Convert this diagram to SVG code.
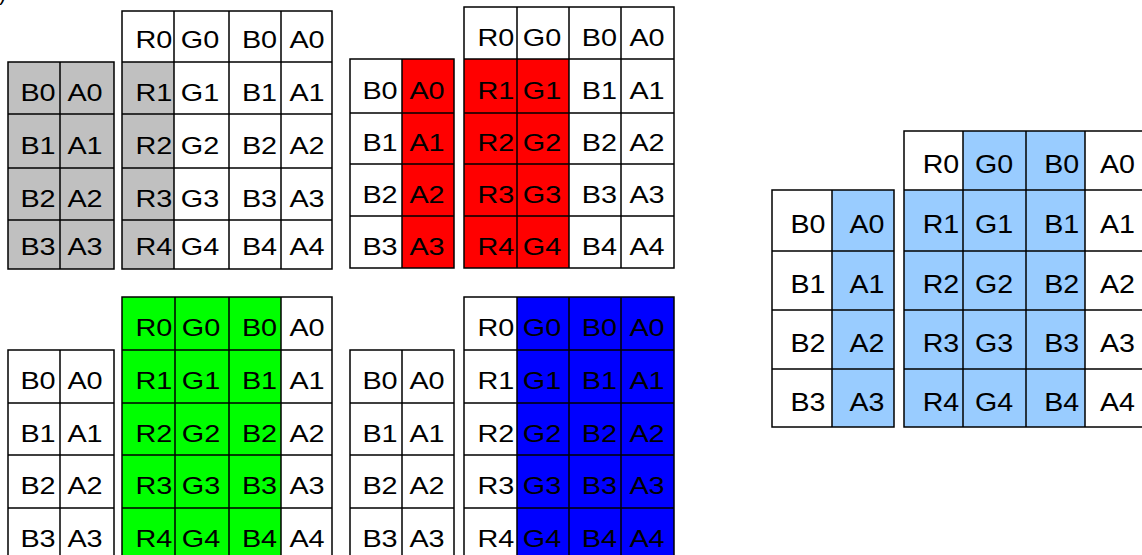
<svg xmlns="http://www.w3.org/2000/svg" width="1142" height="555" viewBox="0 0 1142 555">
<style>
.bg{stroke:none}
.w{fill:#ffffff}
.gray{fill:#c0c0c0}
.red{fill:#ff0000}
.green{fill:#00ff00}
.blue{fill:#0000ff}
.lb{fill:#99ccff}
.ln{fill:none;stroke:#000;stroke-width:1.5}
.t text{font-family:"Liberation Sans",Arial,sans-serif;font-size:24px;fill:#000;text-anchor:middle}
.t2 text{font-family:"Liberation Sans",Arial,sans-serif;font-size:26px;fill:#000;text-anchor:middle}
.mark{font-family:"Liberation Sans",Arial,sans-serif;font-size:22px;fill:#000}
</style>
<rect width="1142" height="555" fill="#ffffff"/>
<text class="mark" x="-1" y="0">)</text>

<g id="panel-gray">
  <rect class="bg gray" x="8" y="62" width="106" height="207"/>
  <rect class="bg w" x="122" y="11" width="210" height="258"/>
  <rect class="bg gray" x="122" y="62" width="52" height="207"/>
  <path class="ln" d="M60 62V269M8 114H114M8 168H114M8 220H114"/>
  <rect class="ln" x="8" y="62" width="106" height="207"/>
  <path class="ln" d="M174 11V269M229 11V269M281 11V269M122 62H332M122 114H332M122 168H332M122 220H332"/>
  <rect class="ln" x="122" y="11" width="210" height="258"/>
  <g class="t" transform="scale(1.2 1)">
    <text x="31.67" y="101">B0</text><text x="70.83" y="101">A0</text>
    <text x="31.67" y="154">B1</text><text x="70.83" y="154">A1</text>
    <text x="31.67" y="207">B2</text><text x="70.83" y="207">A2</text>
    <text x="31.67" y="255">B3</text><text x="70.83" y="255">A3</text>
    <text x="128.33" y="48">R0</text><text x="166.67" y="48">G0</text><text x="216.25" y="48">B0</text><text x="255.83" y="48">A0</text>
    <text x="128.33" y="101">R1</text><text x="166.67" y="101">G1</text><text x="216.25" y="101">B1</text><text x="255.83" y="101">A1</text>
    <text x="128.33" y="154">R2</text><text x="166.67" y="154">G2</text><text x="216.25" y="154">B2</text><text x="255.83" y="154">A2</text>
    <text x="128.33" y="207">R3</text><text x="166.67" y="207">G3</text><text x="216.25" y="207">B3</text><text x="255.83" y="207">A3</text>
    <text x="128.33" y="255">R4</text><text x="166.67" y="255">G4</text><text x="216.25" y="255">B4</text><text x="255.83" y="255">A4</text>
  </g>
</g>

<g id="panel-red">
  <rect class="bg w" x="350" y="59" width="104" height="209"/>
  <rect class="bg red" x="402" y="59" width="52" height="209"/>
  <rect class="bg w" x="464" y="7" width="210" height="261"/>
  <rect class="bg red" x="464" y="59" width="105" height="209"/>
  <path class="ln" d="M402 59V268M350 113H454M350 164H454M350 216H454"/>
  <rect class="ln" x="350" y="59" width="104" height="209"/>
  <path class="ln" d="M517 7V268M569 7V268M621 7V268M464 59H674M464 113H674M464 164H674M464 216H674"/>
  <rect class="ln" x="464" y="7" width="210" height="261"/>
  <g class="t" transform="scale(1.2 1)">
    <text x="316.67" y="99">B0</text><text x="355.83" y="99">A0</text>
    <text x="316.67" y="151.5">B1</text><text x="355.83" y="151.5">A1</text>
    <text x="316.67" y="203">B2</text><text x="355.83" y="203">A2</text>
    <text x="316.67" y="255">B3</text><text x="355.83" y="255">A3</text>
    <text x="413.33" y="46">R0</text><text x="451.67" y="46">G0</text><text x="499.58" y="46">B0</text><text x="539.17" y="46">A0</text>
    <text x="413.33" y="99">R1</text><text x="451.67" y="99">G1</text><text x="499.58" y="99">B1</text><text x="539.17" y="99">A1</text>
    <text x="413.33" y="151.5">R2</text><text x="451.67" y="151.5">G2</text><text x="499.58" y="151.5">B2</text><text x="539.17" y="151.5">A2</text>
    <text x="413.33" y="203">R3</text><text x="451.67" y="203">G3</text><text x="499.58" y="203">B3</text><text x="539.17" y="203">A3</text>
    <text x="413.33" y="255">R4</text><text x="451.67" y="255">G4</text><text x="499.58" y="255">B4</text><text x="539.17" y="255">A4</text>
  </g>
</g>

<g id="panel-green">
  <rect class="bg w" x="8" y="350" width="106" height="210"/>
  <rect class="bg w" x="122" y="297" width="210" height="263"/>
  <rect class="bg green" x="122" y="297" width="159" height="263"/>
  <path class="ln" d="M60 350V560M8 403H114M8 455H114M8 508H114"/>
  <rect class="ln" x="8" y="350" width="106" height="210"/>
  <path class="ln" d="M175 297V560M229 297V560M281 297V560M122 350H332M122 403H332M122 455H332M122 508H332"/>
  <rect class="ln" x="122" y="297" width="210" height="263"/>
  <g class="t" transform="scale(1.2 1)">
    <text x="31.67" y="389.5">B0</text><text x="70.83" y="389.5">A0</text>
    <text x="31.67" y="442">B1</text><text x="70.83" y="442">A1</text>
    <text x="31.67" y="494.5">B2</text><text x="70.83" y="494.5">A2</text>
    <text x="31.67" y="547">B3</text><text x="70.83" y="547">A3</text>
    <text x="128.33" y="336.5">R0</text><text x="167.5" y="336.5">G0</text><text x="216.25" y="336.5">B0</text><text x="255.83" y="336.5">A0</text>
    <text x="128.33" y="389.5">R1</text><text x="167.5" y="389.5">G1</text><text x="216.25" y="389.5">B1</text><text x="255.83" y="389.5">A1</text>
    <text x="128.33" y="442">R2</text><text x="167.5" y="442">G2</text><text x="216.25" y="442">B2</text><text x="255.83" y="442">A2</text>
    <text x="128.33" y="494.5">R3</text><text x="167.5" y="494.5">G3</text><text x="216.25" y="494.5">B3</text><text x="255.83" y="494.5">A3</text>
    <text x="128.33" y="547">R4</text><text x="167.5" y="547">G4</text><text x="216.25" y="547">B4</text><text x="255.83" y="547">A4</text>
  </g>
</g>

<g id="panel-blue">
  <rect class="bg w" x="350" y="350" width="104" height="210"/>
  <rect class="bg w" x="464" y="297" width="210" height="263"/>
  <rect class="bg blue" x="517" y="297" width="157" height="263"/>
  <path class="ln" d="M402 350V560M350 403H454M350 455H454M350 508H454"/>
  <rect class="ln" x="350" y="350" width="104" height="210"/>
  <path class="ln" d="M517 297V560M569 297V560M621 297V560M464 350H674M464 403H674M464 455H674M464 508H674"/>
  <rect class="ln" x="464" y="297" width="210" height="263"/>
  <g class="t" transform="scale(1.2 1)">
    <text x="316.67" y="389.5">B0</text><text x="355.83" y="389.5">A0</text>
    <text x="316.67" y="442">B1</text><text x="355.83" y="442">A1</text>
    <text x="316.67" y="494.5">B2</text><text x="355.83" y="494.5">A2</text>
    <text x="316.67" y="547">B3</text><text x="355.83" y="547">A3</text>
    <text x="413.33" y="336.5">R0</text><text x="451.67" y="336.5">G0</text><text x="499.58" y="336.5">B0</text><text x="539.17" y="336.5">A0</text>
    <text x="413.33" y="389.5">R1</text><text x="451.67" y="389.5">G1</text><text x="499.58" y="389.5">B1</text><text x="539.17" y="389.5">A1</text>
    <text x="413.33" y="442">R2</text><text x="451.67" y="442">G2</text><text x="499.58" y="442">B2</text><text x="539.17" y="442">A2</text>
    <text x="413.33" y="494.5">R3</text><text x="451.67" y="494.5">G3</text><text x="499.58" y="494.5">B3</text><text x="539.17" y="494.5">A3</text>
    <text x="413.33" y="547">R4</text><text x="451.67" y="547">G4</text><text x="499.58" y="547">B4</text><text x="539.17" y="547">A4</text>
  </g>
</g>

<g id="panel-lightblue">
  <rect class="bg w" x="772" y="190" width="122" height="237"/>
  <rect class="bg lb" x="832" y="190" width="62" height="237"/>
  <rect class="bg w" x="904" y="131" width="241" height="296"/>
  <rect class="bg lb" x="904" y="190" width="59" height="237"/>
  <rect class="bg lb" x="963" y="131" width="122" height="296"/>
  <path class="ln" d="M832 190V427M772 251H894M772 310H894M772 369H894"/>
  <rect class="ln" x="772" y="190" width="122" height="237"/>
  <path class="ln" d="M963 131V427M1026 131V427M1085 131V427M904 190H1145M904 251H1145M904 310H1145M904 369H1145"/>
  <rect class="ln" x="904" y="131" width="241" height="296"/>
  <g class="t2" transform="scale(1.1 1)">
    <text x="734.55" y="233.5">B0</text><text x="788.18" y="233.5">A0</text>
    <text x="734.55" y="293.5">B1</text><text x="788.18" y="293.5">A1</text>
    <text x="734.55" y="352.5">B2</text><text x="788.18" y="352.5">A2</text>
    <text x="734.55" y="411">B3</text><text x="788.18" y="411">A3</text>
    <text x="855.45" y="173.5">R0</text><text x="903.64" y="173.5">G0</text><text x="965.18" y="173.5">B0</text><text x="1015.91" y="173.5">A0</text>
    <text x="855.45" y="233.5">R1</text><text x="903.64" y="233.5">G1</text><text x="965.18" y="233.5">B1</text><text x="1015.91" y="233.5">A1</text>
    <text x="855.45" y="293.5">R2</text><text x="903.64" y="293.5">G2</text><text x="965.18" y="293.5">B2</text><text x="1015.91" y="293.5">A2</text>
    <text x="855.45" y="352.5">R3</text><text x="903.64" y="352.5">G3</text><text x="965.18" y="352.5">B3</text><text x="1015.91" y="352.5">A3</text>
    <text x="855.45" y="411">R4</text><text x="903.64" y="411">G4</text><text x="965.18" y="411">B4</text><text x="1015.91" y="411">A4</text>
  </g>
</g>
</svg>
